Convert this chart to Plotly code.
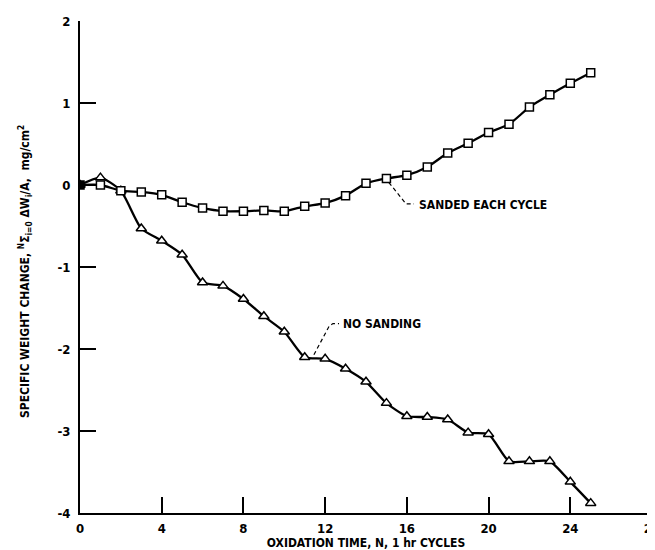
import plotly.graph_objects as go

# ---- data ----
cycles = list(range(0, 26))
sanded = [0.0, 0.0, -0.07, -0.085, -0.12, -0.21, -0.28, -0.32, -0.32, -0.31,
          -0.32, -0.26, -0.22, -0.13, 0.02, 0.08, 0.12, 0.22, 0.39, 0.51,
          0.64, 0.74, 0.95, 1.10, 1.24, 1.37]
no_sanding = [0.0, 0.09, -0.07, -0.53, -0.68, -0.85, -1.19, -1.23, -1.39, -1.60,
              -1.79, -2.10, -2.12, -2.24, -2.40, -2.66, -2.82, -2.83, -2.86, -3.02,
              -3.04, -3.37, -3.37, -3.37, -3.62, -3.88]
x_ticks = [0, 4, 8, 12, 16, 20, 24, 28]
y_ticks = [2, 1, 0, -1, -2, -3, -4]
y_tick_text = ["2", "1", "0", "-1", "-2", "-3", "-4"]
label_sanded = "SANDED EACH CYCLE"
label_nosand = "NO SANDING"
x_title = "OXIDATION TIME, N, 1 hr CYCLES"
y_title = ("SPECIFIC WEIGHT CHANGE, <sup>N</sup>\u03a3<sub>i=0</sub> "
           "\u0394W<sub>i</sub>/A,  mg/cm<sup>2</sup>")

FONT = "DejaVu Sans Condensed, Liberation Sans Narrow, sans-serif"

fig = go.Figure()

fig.add_trace(go.Scatter(
    x=cycles, y=no_sanding, mode="lines+markers",
    line=dict(color="black", width=2.3, shape="spline", smoothing=0.6),
    marker=dict(symbol="triangle-up", size=9,
                color=["black"] + ["white"] * (len(cycles) - 1),
                line=dict(color="black", width=1.5)),
    showlegend=False, hoverinfo="skip"))

fig.add_trace(go.Scatter(
    x=cycles, y=sanded, mode="lines+markers",
    line=dict(color="black", width=2.3, shape="spline", smoothing=0.6),
    marker=dict(symbol="square", size=8,
                color=["black"] + ["white"] * (len(cycles) - 1),
                line=dict(color="black", width=1.5)),
    showlegend=False, hoverinfo="skip"))

# dashed leader lines for the labels
fig.add_trace(go.Scatter(
    x=[15.12, 15.82, 15.96, 16.35], y=[0.03, -0.19, -0.23, -0.23],
    mode="lines", line=dict(color="black", width=1.2, dash="4px,3px"),
    showlegend=False, hoverinfo="skip"))
fig.add_trace(go.Scatter(
    x=[11.45, 12.2, 12.38, 12.68], y=[-2.07, -1.72, -1.69, -1.69],
    mode="lines", line=dict(color="black", width=1.2, dash="4px,3px"),
    showlegend=False, hoverinfo="skip"))

fig.add_annotation(x=16.48, y=-0.245, text=label_sanded, showarrow=False,
                   xanchor="left", yanchor="middle",
                   font=dict(family=FONT, size=12, color="black", weight="bold"))
fig.add_annotation(x=12.76, y=-1.70, text=label_nosand, showarrow=False,
                   xanchor="left", yanchor="middle",
                   font=dict(family=FONT, size=12, color="black", weight="bold"))

# y-axis title as rotated annotation
fig.add_annotation(xref="paper", yref="paper", x=-0.096, y=0.49,
                   text=y_title, textangle=-90, showarrow=False,
                   xanchor="center", yanchor="middle",
                   font=dict(family=FONT, size=12, color="black", weight="bold"))

fig.update_xaxes(range=[0, 28], tickvals=x_ticks, ticks="inside", ticklen=16,
                 tickwidth=1.5, tickcolor="black", showline=True, linewidth=2,
                 linecolor="black", showgrid=False, zeroline=False,
                 ticklabelstandoff=2, automargin=False,
                 tickfont=dict(family=FONT, size=13, color="black", weight="bold"),
                 title=dict(text=x_title, standoff=3,
                            font=dict(family=FONT, size=12, color="black",
                                      weight="bold")))
fig.update_yaxes(range=[-4, 2], tickvals=y_ticks, ticktext=y_tick_text,
                 ticks="inside", ticklen=16, tickwidth=1.5, tickcolor="black",
                 showline=True, linewidth=2, linecolor="black", showgrid=False,
                 zeroline=False, ticklabelstandoff=5, automargin=False,
                 tickfont=dict(family=FONT, size=13, color="black", weight="bold"))

# page body has an 8px margin; the figure is offset to line up with the window
fig.update_layout(width=655, height=542, autosize=False,
                  margin=dict(l=72, r=11, t=13, b=37),
                  plot_bgcolor="white", paper_bgcolor="white")

fig.write_html("out.html")
